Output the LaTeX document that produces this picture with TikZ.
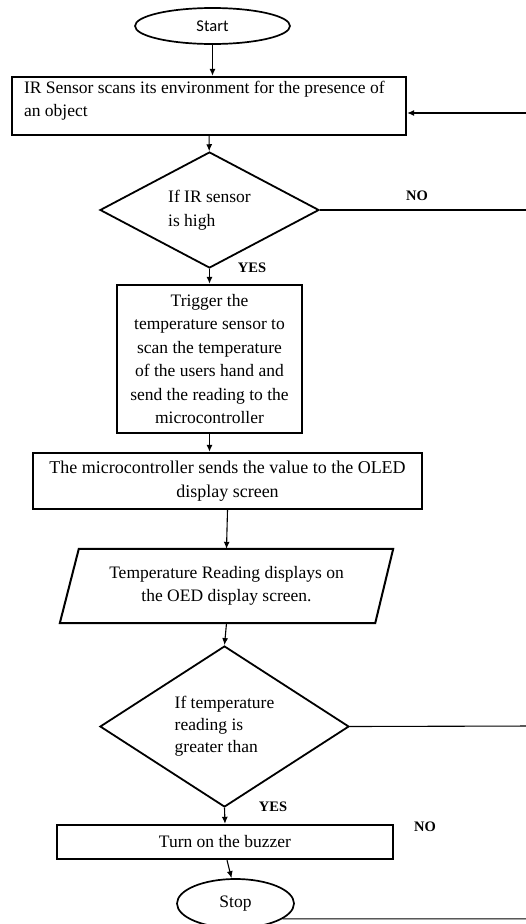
\documentclass[tikz,border=0pt]{standalone}
\usepackage{fontspec}
\setmainfont{Liberation Serif}
\newfontfamily\calfont{Carlito}
\usetikzlibrary{positioning, shapes, arrows.meta}

\tikzset{
  txt/.style={font=\fontsize{17.5}{23.5}\selectfont},
  proc/.style={rectangle, draw=black, line width=2.4pt, inner sep=0pt, txt},
  decision/.style={diamond, draw=black, line width=1.8pt, inner sep=0pt, shape aspect=1.8, align=left, txt},
  term/.style={ellipse, draw=black, line width=1.7pt, inner sep=0pt, txt},
  lbl/.style={font=\fontsize{14.5}{17}\selectfont\bfseries},
  flow/.style={-{Latex[length=7pt,width=6pt]}, line width=1.1pt},
}

\begin{document}
\begin{tikzpicture}[x=1pt, y=-1pt]
\useasboundingbox[fill=white] (0,0) rectangle (525,924);

\node[term, minimum width=155, minimum height=36, font=\calfont\fontsize{16.5}{18}\selectfont] (start) at (212.5,26) {Start};
\node[proc, minimum width=394, minimum height=58] (scan) at (209,106) {};
\node[txt, align=left, inner sep=0pt, anchor=north west] (scantxt) at ([xshift=13pt,yshift=-5pt]scan.north west) {IR Sensor scans its environment for the presence of\\ an object};
\node[decision, minimum width=219, minimum height=116] (irhigh) at (209.5,210) {If IR sensor\\ is high};
\node[proc, minimum width=185, minimum height=148, align=center] (trigger) at (209.5,359) {Trigger the\\ temperature sensor to\\ scan the temperature\\ of the users hand and\\ send the reading to the\\ microcontroller};
\node[proc, minimum width=389, minimum height=56, align=center, font=\fontsize{18}{23.5}\selectfont] (micro) at (227.5,481) {The microcontroller sends the value to the OLED\\ display screen};
\node[txt, minimum width=333, minimum height=74, inner sep=0pt, align=center] (show) at (226.5,586) {Temperature Reading displays on\\ the OED display screen.};
\draw[line width=2pt] ([xshift=19pt]show.north west) -- (show.north east) -- ([xshift=-18pt]show.south east) -- (show.south west) -- cycle;
\node[decision, minimum width=249, minimum height=161, font=\fontsize{17.5}{22}\selectfont] (tempchk) at (224.5,726.5) {If temperature\\ reading is\\ greater than};
\node[proc, minimum width=336, minimum height=34] (buzz) at (225,842) {Turn on the buzzer};
\node[term, minimum width=117, minimum height=49] (stop) at (235.5,903.5) {Stop};

\node[lbl] (no1) at (417,196) {NO};
\node[lbl] (yes1) at (252,268) {YES};
\node[lbl] (yes2) at (273,807) {YES};
\node[lbl] (no2) at (425,827) {NO};

\coordinate (noright) at (535,210);
\coordinate (noright2) at (535,726);

\draw[flow] (start.south) -- (start.south |- scan.north);
\draw[flow] (scan) -- (irhigh);
\draw[flow] (irhigh) -- (trigger);
\draw[flow] (trigger.south) -- (trigger.south |- micro.north);
\draw[flow] (micro.south) -- (show.north);
\draw[flow] (show.south) -- (tempchk.north);
\draw[flow] (tempchk.south) -- (buzz.north);
\draw[flow] ([xshift=2pt]buzz.south) -- ([xshift=-4pt]stop.north);
\draw[flow] (irhigh.east) -- (noright) |- ([yshift=-7pt]scan.east);
\draw[line width=1.1pt] (tempchk.east) -- (noright2) |- (stop.-18);
\end{tikzpicture}
\end{document}
